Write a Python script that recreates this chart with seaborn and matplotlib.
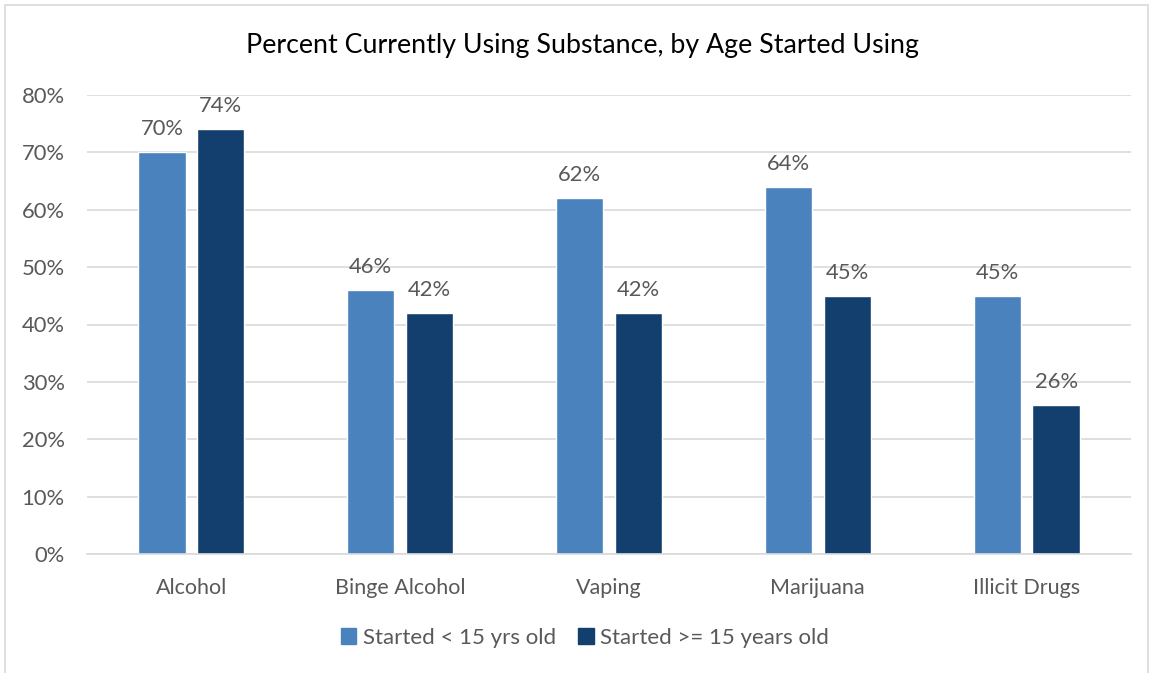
import matplotlib
matplotlib.use("Agg")
import matplotlib.pyplot as plt
import matplotlib.patches as mpatches
import seaborn as sns
import pandas as pd

categories = ["Alcohol", "Binge Alcohol", "Vaping", "Marijuana", "Illicit Drugs"]
series_names = ["Started < 15 yrs old", "Started >= 15 years old"]
under_15 = [70, 46, 62, 64, 45]
over_15 = [74, 42, 42, 45, 26]
y_ticks = [0, 10, 20, 30, 40, 50, 60, 70, 80]
title = "Percent Currently Using Substance, by Age Started Using"

colors = ["#4A82BE", "#133F6F"]
text_gray = "#595959"

df = pd.DataFrame({
    "category": categories * 2,
    "group": [series_names[0]] * len(categories) + [series_names[1]] * len(categories),
    "value": under_15 + over_15,
})

sns.set_theme(style="white")
plt.rcParams["font.family"] = ["Lato", "DejaVu Sans"]

fig = plt.figure(figsize=(11.51, 6.73), dpi=100)
ax = fig.add_axes([87 / 1151, 1 - 554 / 673, (1131 - 87) / 1151, (554 - 95) / 673])

sns.barplot(data=df, x="category", y="value", hue="group", order=categories,
            hue_order=series_names, palette=colors, width=0.565, gap=0.2,
            saturation=1, ax=ax, legend=False)

for container in ax.containers:
    ax.bar_label(container, labels=[f"{v:.0f}%" for v in container.datavalues],
                 padding=9.5, fontsize=15.8, color=text_gray)

ax.set_ylim(0, 80)
ax.set_xlim(-0.5, len(categories) - 0.5)
ax.set_yticks(y_ticks)
ax.set_yticklabels([f"{t}%" for t in y_ticks], fontsize=15.8, color=text_gray)
ax.tick_params(axis="x", labelsize=15.5, labelcolor=text_gray, pad=17, length=0)
ax.tick_params(axis="y", pad=16, length=0)
ax.set_xlabel("")
ax.set_ylabel("")
ax.yaxis.grid(True, color="#D9D9D9", linewidth=1.2)
ax.set_axisbelow(True)
for side in ["top", "right", "left"]:
    ax.spines[side].set_visible(False)
ax.spines["bottom"].set_color("#D9D9D9")
ax.spines["bottom"].set_linewidth(1.2)

fig.text(582 / 1151, 1 - 45 / 673, title, ha="center", va="center",
         fontsize=19.3, color="black")

handles = [mpatches.Patch(color=c, label=n) for c, n in zip(colors, series_names)]
fig.legend(handles=handles, loc="center", bbox_to_anchor=(585 / 1151, 1 - 638 / 673),
           ncol=2, frameon=False, fontsize=16, handlelength=0.7, handleheight=0.7,
           handletextpad=0.3, columnspacing=1.0, labelcolor=text_gray)

border = mpatches.Rectangle((5 / 1151, -0.02), 1143 / 1151, 1 - 5 / 673 + 0.02,
                            transform=fig.transFigure, fill=False,
                            edgecolor="#D9D9D9", linewidth=1.2)
fig.add_artist(border)

fig.savefig("out.png", dpi=100, facecolor="white")
